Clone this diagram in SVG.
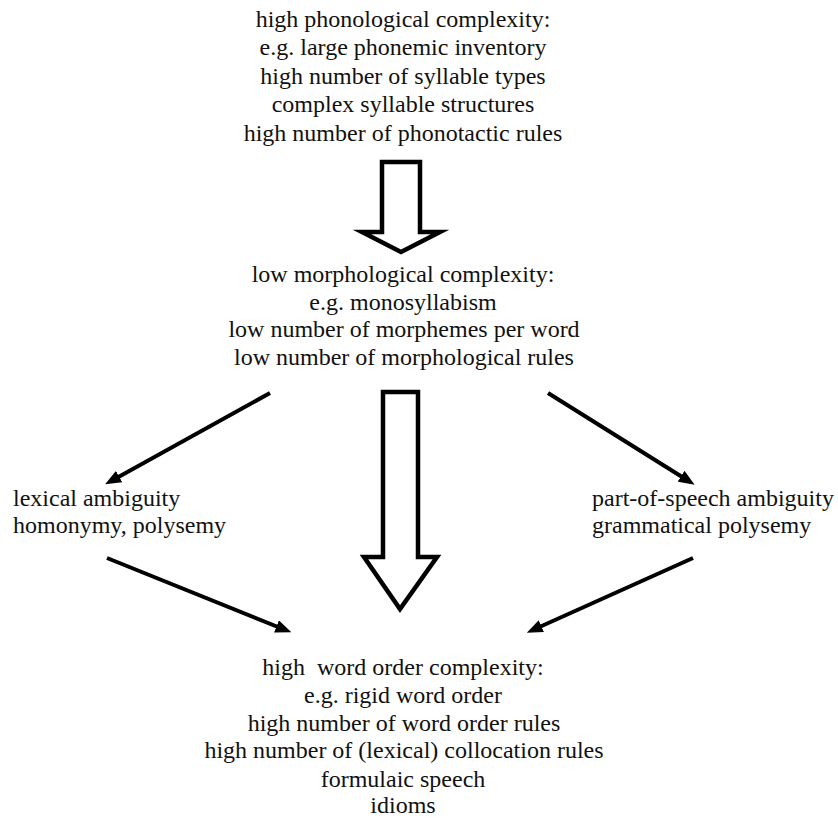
<svg xmlns="http://www.w3.org/2000/svg" width="838" height="818" viewBox="0 0 838 818">
<style>
.t{font-family:'Liberation Serif','Times New Roman','DejaVu Serif',serif;font-size:24px;fill:#111}
.c{text-anchor:middle}
.block{fill:#fff;stroke:#000;stroke-width:4.5;stroke-linejoin:miter;stroke-miterlimit:10}
.conn line{stroke:#000;stroke-width:4;marker-end:url(#ah)}
</style>
<defs>
<marker id="ah" markerUnits="userSpaceOnUse" markerWidth="16" markerHeight="13" refX="7" refY="6.5" orient="auto">
<path d="M0,0 L16,6.5 L0,13 z" fill="#000"/>
</marker>
</defs>
<rect width="838" height="818" fill="#fff"/>
<g id="phonology" class="t" font-family="Liberation Serif, serif">
<text class="c" x="403" y="27">high phonological complexity:</text>
<text class="c" x="403" y="55">e.g. large phonemic inventory</text>
<text class="c" x="403" y="84">high number of syllable types</text>
<text class="c" x="403" y="112">complex syllable structures</text>
<text class="c" x="403" y="141">high number of phonotactic rules</text>
</g>
<g id="morphology" class="t" font-family="Liberation Serif, serif">
<text class="c" x="403" y="282">low morphological complexity:</text>
<text class="c" x="403" y="310">e.g. monosyllabism</text>
<text class="c" x="404" y="337">low number of morphemes per word</text>
<text class="c" x="404" y="365">low number of morphological rules</text>
</g>
<g id="lexical" class="t" font-family="Liberation Serif, serif">
<text x="13" y="506">lexical ambiguity</text>
<text x="13" y="533">homonymy, polysemy</text>
</g>
<g id="pos" class="t" font-family="Liberation Serif, serif">
<text x="592" y="506">part-of-speech ambiguity</text>
<text x="592" y="533">grammatical polysemy</text>
</g>
<g id="wordorder" class="t" font-family="Liberation Serif, serif">
<text class="c" x="403" y="675" xml:space="preserve">high  word order complexity:</text>
<text class="c" x="403" y="703">e.g. rigid word order</text>
<text class="c" x="404" y="731">high number of word order rules</text>
<text class="c" x="404" y="758">high number of (lexical) collocation rules</text>
<text class="c" x="403" y="787">formulaic speech</text>
<text class="c" x="403" y="813">idioms</text>
</g>
<g id="connectors" class="conn">
<polygon class="block" points="382,162 420,162 420,232 440,232 401,252 362,232 382,232"/>
<polygon class="block" points="383,392 418,392 418,557 437,557 400,609 364,557 383,557"/>
<line x1="270" y1="393" x2="113" y2="480"/>
<line x1="548" y1="393" x2="687" y2="480"/>
<line x1="107" y1="558" x2="283" y2="629"/>
<line x1="693" y1="558" x2="535" y2="629"/>
</g>
</svg>
